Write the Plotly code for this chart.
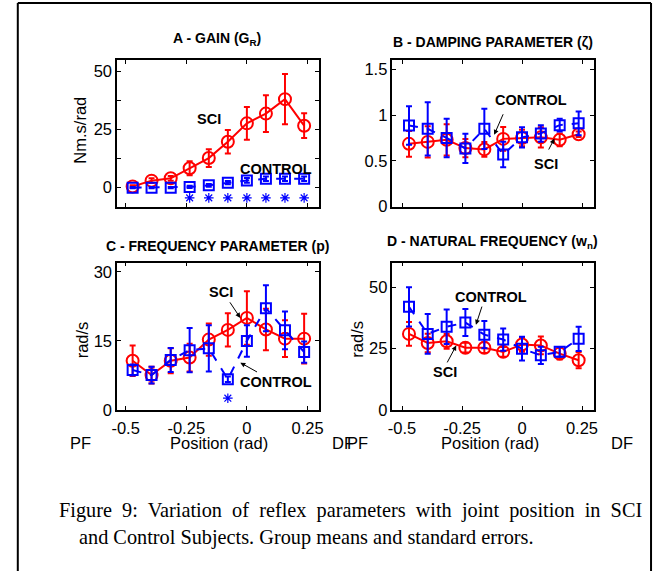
import plotly.graph_objects as go

# ---------------- data ----------------
positions = [-0.471, -0.393, -0.314, -0.236, -0.157, -0.0785, 0.0, 0.0785, 0.157, 0.236]

gain_sci = [0.5, 3.0, 4.0, 8.3, 12.7, 19.7, 27.6, 31.8, 38.0, 26.6]
gain_sci_se = [0.5, 1.0, 1.0, 3.0, 3.8, 5.0, 7.0, 7.9, 10.8, 5.3]
gain_ctrl = [0.0, 0.0, 0.0, 0.3, 1.0, 2.1, 3.1, 3.8, 3.8, 3.8]
gain_ctrl_se = [0.3, 0.3, 0.3, 0.5, 0.6, 0.7, 1.0, 1.0, 1.0, 1.0]
gain_star_x = [-0.236, -0.157, -0.0785, 0.0, 0.0785, 0.157, 0.236]
gain_star_y = [-4.4, -4.4, -4.4, -4.4, -4.4, -4.4, -4.4]

damp_sci = [0.686, 0.707, 0.73, 0.64, 0.625, 0.74, 0.75, 0.757, 0.73, 0.79]
damp_sci_se = [0.14, 0.17, 0.17, 0.10, 0.08, 0.13, 0.09, 0.11, 0.07, 0.03]
damp_ctrl = [0.886, 0.85, 0.75, 0.636, 0.85, 0.57, 0.757, 0.80, 0.89, 0.91]
damp_ctrl_se = [0.21, 0.29, 0.21, 0.16, 0.22, 0.14, 0.11, 0.09, 0.07, 0.13]

freq_sci = [10.7, 7.6, 10.7, 11.4, 15.3, 17.4, 20.0, 17.5, 15.5, 15.5]
freq_sci_se = [3.3, 1.8, 2.7, 3.0, 3.5, 3.6, 5.8, 4.5, 4.0, 5.4]
freq_ctrl = [8.7, 7.6, 10.9, 13.0, 13.4, 6.7, 15.0, 22.1, 17.3, 12.6]
freq_ctrl_se = [1.2, 1.8, 2.6, 4.8, 5.0, 0.6, 3.4, 5.0, 4.1, 2.3]
freq_star_x = [-0.0785]
freq_star_y = [2.6]

nat_sci = [31.0, 27.3, 28.0, 25.4, 25.4, 23.7, 26.7, 26.3, 23.0, 20.3]
nat_sci_se = [4.8, 3.8, 3.0, 2.0, 2.2, 2.0, 3.0, 3.6, 2.4, 3.3]
nat_ctrl = [42.0, 31.0, 33.9, 35.6, 30.7, 28.7, 25.0, 22.3, 23.7, 29.0]
nat_ctrl_se = [8.0, 8.1, 7.0, 5.5, 5.5, 4.5, 4.8, 3.5, 2.0, 4.9]

x_ticks = [-0.5, -0.25, 0, 0.25]
x_tick_labels = ["-0.5", "-0.25", "0", "0.25"]

titles = ["A - GAIN (G<sub>R</sub>)", "B - DAMPING PARAMETER (ζ)",
          "C - FREQUENCY PARAMETER (p)", "D - NATURAL FREQUENCY (w<sub>n</sub>)"]

# ---------------- figure ----------------
W, H = 658, 575
RED = "#FF0000"
BLUE = "#0000FF"
FONT = "Arial, Liberation Sans, sans-serif"

fig = go.Figure()


def add_pair(xa, ya, sci, sci_se, ctrl, ctrl_se):
    fig.add_trace(go.Scatter(
        x=positions, y=sci, xaxis=xa, yaxis=ya, mode="lines+markers",
        line=dict(color=RED, width=2),
        marker=dict(symbol="circle-open", size=12, color=RED, line=dict(width=2)),
        error_y=dict(type="data", array=sci_se, color=RED, thickness=2, width=3),
        showlegend=False))
    fig.add_trace(go.Scatter(
        x=positions, y=ctrl, xaxis=xa, yaxis=ya, mode="lines+markers",
        line=dict(color=BLUE, width=2, dash="dash"),
        marker=dict(symbol="square-open", size=10, color=BLUE, line=dict(width=2)),
        error_y=dict(type="data", array=ctrl_se, color=BLUE, thickness=2, width=3),
        showlegend=False))


add_pair("x", "y", gain_sci, gain_sci_se, gain_ctrl, gain_ctrl_se)
add_pair("x2", "y2", damp_sci, damp_sci_se, damp_ctrl, damp_ctrl_se)
add_pair("x3", "y3", freq_sci, freq_sci_se, freq_ctrl, freq_ctrl_se)
add_pair("x4", "y4", nat_sci, nat_sci_se, nat_ctrl, nat_ctrl_se)

for xs, ys, xa, ya in [(gain_star_x, gain_star_y, "x", "y"), (freq_star_x, freq_star_y, "x3", "y3")]:
    fig.add_trace(go.Scatter(
        x=xs, y=ys, xaxis=xa, yaxis=ya, mode="markers",
        marker=dict(symbol="asterisk-open", size=8, color=BLUE, line=dict(width=1.2, color=BLUE)),
        showlegend=False))


def px_x(p):
    return p / W


def px_y(p):
    return 1 - p / H


left_dom = [px_x(113), px_x(318)]
right_dom = [px_x(393), px_x(598)]
top_dom = [px_y(210), px_y(61)]
bot_dom = [px_y(416.7), px_y(266.7)]

axis_common = dict(showline=True, linecolor="black", linewidth=1.5, mirror="ticks",
                   ticks="inside", ticklen=4, tickwidth=1, tickcolor="black",
                   showgrid=False, zeroline=False,
                   tickfont=dict(family=FONT, size=16.5, color="black"))

xcfg = dict(tickmode="array", tickvals=x_ticks, ticktext=x_tick_labels, **axis_common)

fig.update_layout(
    width=W, height=H, margin=dict(l=0, r=0, t=0, b=0),
    paper_bgcolor="white", plot_bgcolor="white",
    xaxis=dict(domain=left_dom, range=[-0.535, 0.296], anchor="y", showticklabels=False, **xcfg),
    xaxis2=dict(domain=right_dom, range=[-0.54, 0.30], anchor="y2", showticklabels=False, **xcfg),
    xaxis3=dict(domain=left_dom, range=[-0.535, 0.296], anchor="y3", ticklabelstandoff=2, **xcfg),
    xaxis4=dict(domain=right_dom, range=[-0.54, 0.30], anchor="y4", ticklabelstandoff=2, **xcfg),
    yaxis=dict(domain=top_dom, range=[-8.2, 54.8], anchor="x", tickvals=[0, 25, 50],
               minor=dict(tickvals=[12.5, 37.5], ticks="inside", ticklen=4, tickcolor="black"),
               **axis_common),
    yaxis2=dict(domain=top_dom, range=[0, 1.6], anchor="x2", tickvals=[0, 0.5, 1, 1.5],
                ticktext=["0", "0.5", "1", "1.5"], **axis_common),
    yaxis3=dict(domain=bot_dom, range=[0, 32], anchor="x3", tickvals=[0, 15, 30], **axis_common),
    yaxis4=dict(domain=bot_dom, range=[0, 60], anchor="x4", tickvals=[0, 25, 50], **axis_common),
)

ann = []


def paper_text(txt, cx, cy, font, angle=0, xanchor="center"):
    ann.append(dict(text=txt, x=px_x(cx), y=px_y(cy), xref="paper", yref="paper",
                    xanchor=xanchor, yanchor="middle", textangle=angle,
                    showarrow=False, font=font))


title_font = dict(family=FONT, size=14, color="black")
axis_font = dict(family=FONT, size=16.5, color="black")
# panel titles
for txt, cx, cy in zip(titles, [215, 495, 215, 495], [40, 43, 250, 246]):
    paper_text("<b>" + txt + "</b>", cx, cy, title_font)
# y axis titles
for txt, cx, cy in [("Nm.s/rad", 75, 132), ("rad/s", 77, 345), ("rad/s", 357, 345)]:
    paper_text(txt, cx, cy, axis_font, angle=-90)
# x axis labels
for txt, cx in [("PF", 76), ("Position (rad)", 217), ("DF", 343), ("PF", 357),
                ("Position (rad)", 492), ("DF", 626)]:
    paper_text(txt, cx, 450, axis_font)

lab_font = dict(family=FONT, size=14.5, color="black")
# in-plot labels
for txt, x, y, xr, yr in [("SCI", -0.156, 29.4, "x", "y"), ("CONTROL", 0.122, 8.0, "x", "y"),
                          ("CONTROL", 0.036, 1.168, "x2", "y2"), ("SCI", 0.098, 0.464, "x2", "y2"),
                          ("SCI", -0.108, 25.6, "x3", "y3"), ("CONTROL", 0.122, 6.1, "x3", "y3"),
                          ("CONTROL", -0.129, 46.0, "x4", "y4"), ("SCI", -0.32, 15.4, "x4", "y4")]:
    ann.append(dict(text="<b>" + txt + "</b>", x=x, y=y, xref=xr, yref=yr, showarrow=False,
                    xanchor="center", yanchor="middle", font=lab_font))
# arrows (head x,y ; tail ax,ay)
for hx, hy, tx, ty, xr, yr in [(-0.116, 0.785, -0.076, 1.025, "x2", "y2"),
                               (0.135, 0.743, 0.108, 0.607, "x2", "y2"),
                               (-0.027, 20.0, -0.074, 23.7, "x3", "y3"),
                               (-0.027, 10.3, 0.048, 8.1, "x3", "y3"),
                               (-0.192, 34.7, -0.165, 42.7, "x4", "y4"),
                               (-0.274, 26.3, -0.315, 18.8, "x4", "y4")]:
    ann.append(dict(text="", x=hx, y=hy, ax=tx, ay=ty, xref=xr, yref=yr, axref=xr, ayref=yr,
                    showarrow=True, arrowhead=2, arrowsize=1, arrowwidth=1, arrowcolor="black"))

# caption (first line is justified in the original -> widened word gaps)
cap_font = dict(family="Times New Roman, Liberation Serif, serif", size=20.3, color="black")
cap_line1 = "Figure 9: Variation of reflex parameters with joint position in SCI"
cap_line2 = "and Control Subjects. Group means and standard errors."
paper_text(cap_line1.replace(" ", "\u00a0 "), 52, 519, cap_font, xanchor="left")
paper_text(cap_line2, 72, 546, cap_font, xanchor="left")

fig.update_layout(annotations=ann)

# outer frame (left, top, right lines)
for x0, y0, x1, y1 in [(12, 3, 12, 580), (12, 3, 656, 3), (656, 3, 656, 580)]:
    fig.add_shape(type="line", xref="paper", yref="paper",
                  x0=px_x(x0), y0=px_y(y0), x1=px_x(x1), y1=px_y(y1),
                  line=dict(color="black", width=2))

fig.write_html("out.html", config={"displayModeBar": False},
               post_script="document.body.style.margin='0px';document.body.style.overflow='hidden';")
